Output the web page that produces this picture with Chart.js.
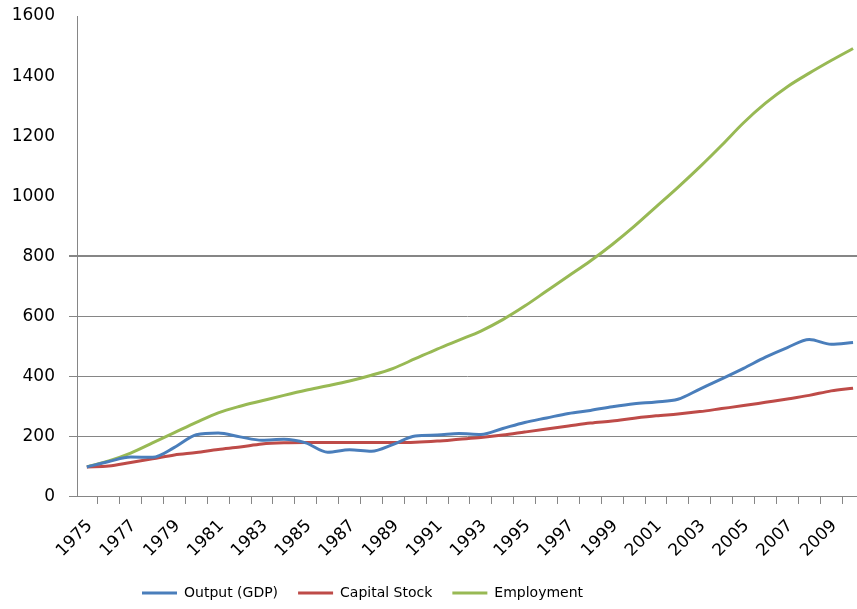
<!DOCTYPE html>
<html>
<head>
<meta charset="utf-8">
<script src="https://cdn.jsdelivr.net/npm/chart.js@4/dist/chart.umd.min.js"></script>
<style>
  html, body { margin: 0; padding: 0; background: #ffffff; }
  canvas { display: block; }
</style>
</head>
<body>
<canvas id="chart" width="857" height="609"></canvas>
<script>
// Index values, 1975 = 100
const years = [1975, 1976, 1977, 1978, 1979, 1980, 1981, 1982, 1983, 1984, 1985, 1986,
               1987, 1988, 1989, 1990, 1991, 1992, 1993, 1994, 1995, 1996, 1997, 1998,
               1999, 2000, 2001, 2002, 2003, 2004, 2005, 2006, 2007, 2008, 2009, 2010];

const outputGDP = [100, 118, 133, 132, 165, 207, 213, 200, 189, 192, 180, 149,
                   157, 152, 175, 203, 206, 211, 208, 228, 248, 263, 278, 288,
                   300, 310, 316, 325, 359, 393, 428, 465, 497, 524, 508, 514];

const capitalStock = [100, 103, 115, 127, 140, 148, 158, 166, 176, 180, 181, 181,
                      181, 181, 181, 182, 186, 192, 198, 206, 216, 226, 236, 246,
                      253, 262, 270, 276, 284, 294, 304, 315, 326, 338, 353, 362];

const employment = [100, 120, 146, 180, 214, 248, 280, 302, 320, 338, 355, 370,
                    386, 405, 428, 460, 492, 522, 552, 590, 635, 685, 735, 785,
                    840, 900, 965, 1030, 1098, 1170, 1245, 1310, 1365, 1410, 1452, 1492];

const yTickValues = [0, 200, 400, 600, 800, 1000, 1200, 1400, 1600];
const seriesNames = ['Output (GDP)', 'Capital Stock', 'Employment'];
const seriesColors = ['#4a7ebb', '#be4b48', '#98b954'];

const AXIS_GREY = '#868686';
const FONT = 'DejaVu Sans';

function toPoints(values) {
  return years.map((yr, i) => ({ x: yr, y: values[i] }));
}

// Nudge the legend row after layout
const legendOffset = {
  id: 'legendOffset',
  afterLayout(chart, args, opts) {
    const lg = chart.legend;
    if (!lg) return;
    lg.left += opts.dx;
    lg.right += opts.dx;
    lg.top += opts.dy;
    lg.bottom += opts.dy;
  }
};

const datasets = [outputGDP, capitalStock, employment].map((vals, i) => ({
  label: seriesNames[i],
  data: toPoints(vals),
  borderColor: seriesColors[i],
  backgroundColor: seriesColors[i],
  borderWidth: 3,
  pointRadius: 0,
  pointHoverRadius: 0,
  cubicInterpolationMode: 'monotone',
  fill: false
}));

new Chart(document.getElementById('chart'), {
  type: 'line',
  data: { datasets },
  plugins: [legendOffset],
  options: {
    responsive: false,
    animation: false,
    layout: { padding: { top: 16, left: 0, right: 0, bottom: 0 } },
    plugins: {
      tooltip: { enabled: false },
      legendOffset: { dx: 122, dy: 1 },
      legend: {
        position: 'bottom',
        align: 'start',
        labels: {
          usePointStyle: true,
          pointStyle: 'line',
          pointStyleWidth: 35,
          boxHeight: 14,
          padding: 20,
          color: '#000000',
          font: { family: FONT, size: 14 }
        }
      }
    },
    scales: {
      x: {
        type: 'linear',
        min: 1974.55,
        max: 2010.18,
        afterBuildTicks(scale) {
          const t = [];
          years.forEach(yr => { t.push({ value: yr - 0.5 }); t.push({ value: yr }); });
          scale.ticks = t.filter(o => o.value >= scale.min && o.value <= scale.max);
        },
        afterFit(scale) {
          scale.paddingLeft = 0;
          scale.paddingRight = 0;
          scale.height -= 8;
        },
        border: { color: AXIS_GREY, width: 1 },
        grid: {
          drawOnChartArea: false,
          tickLength: 7,
          tickWidth: 1,
          tickColor: ctx => (ctx.tick && !Number.isInteger(ctx.tick.value)) ? AXIS_GREY : 'rgba(0,0,0,0)'
        },
        ticks: {
          autoSkip: false,
          minRotation: 45,
          maxRotation: 45,
          padding: 12,
          labelOffset: 3,
          color: '#000000',
          font: { family: FONT, size: 17 },
          callback: v => (Number.isInteger(v) && v % 2 === 1) ? String(v) : ''
        }
      },
      y: {
        min: 0,
        max: 1600,
        afterBuildTicks(scale) {
          scale.ticks = yTickValues.map(v => ({ value: v }));
        },
        afterFit(scale) {
          scale.width = 77;
          scale.paddingTop = 0;
          scale.paddingBottom = 0;
        },
        border: { color: AXIS_GREY, width: 1 },
        grid: {
          tickLength: 8,
          color: ctx => (ctx.tick && ctx.tick.value > 0 && ctx.tick.value <= 800) ? AXIS_GREY : 'rgba(0,0,0,0)',
          lineWidth: ctx => (ctx.tick && ctx.tick.value === 800) ? 2 : 1,
          tickColor: ctx => (ctx.tick && ctx.tick.value <= 800) ? AXIS_GREY : 'rgba(0,0,0,0)'
        },
        ticks: {
          padding: 14,
          color: '#000000',
          font: { family: FONT, size: 17 },
          callback: v => String(v)
        }
      }
    }
  }
});
</script>
</body>
</html>
